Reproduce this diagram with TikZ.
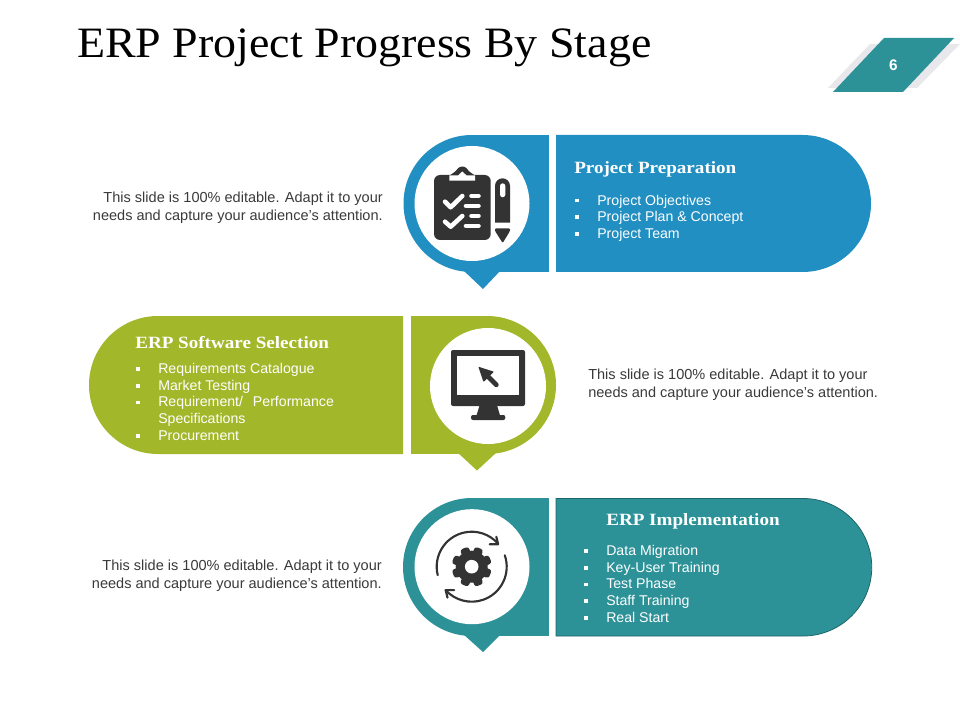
\documentclass[tikz,border=0pt]{standalone}
\usepackage{fontspec}
\usetikzlibrary{calc}
\setmainfont{Liberation Sans}
\newfontfamily\serifhead[FakeStretch=1.06]{Liberation Serif}
\newfontfamily\serifsub[FakeStretch=1.11]{Liberation Serif}
\definecolor{erpblue}{HTML}{228FC2}
\definecolor{erpgreen}{HTML}{A2B82A}
\definecolor{erpteal}{HTML}{2C9298}
\definecolor{icondark}{HTML}{333333}
\definecolor{bodytext}{HTML}{3A3A3A}
\definecolor{shadowgray}{HTML}{E8E8EC}
\newcommand{\bul}{\makebox[16.5pt][l]{\raisebox{0.18em}{\rule{2.8pt}{2.8pt}}}}
\tikzset{
  px/.style={x=0.75pt,y=-0.75pt},
  slidetitle/.style={anchor=base west,inner sep=0,font=\serifhead\fontsize{32.5}{36}\selectfont,text=black},
  head/.style={anchor=base west,inner sep=0,font=\serifsub\bfseries\fontsize{12.9}{15}\selectfont,text=white},
  listing/.style={anchor=north west,inner sep=0,align=left,text=white,font=\fontsize{10.6}{12.55}\selectfont},
  note/.style={inner sep=0,text=bodytext,font=\fontsize{10.9}{13.6}\selectfont},
  whitebar/.style={draw=white,line width=3.4pt,line cap=round,line join=round},
  ring/.style={draw=icondark,line width=1.6pt,line cap=round,line join=round}
}
\begin{document}
\begin{tikzpicture}[px]
\useasboundingbox (0,0) rectangle (960,720);
\fill[white] (0,0) rectangle (960,720);
\node[slidetitle] (title) at (77,58) {ERP Project Progress By Stage};
\fill[shadowgray] (828,88) -- (870,44) -- (960,44) -- (917,88) -- cycle;
\fill[erpteal] (833,92) -- (884,38) -- (954,38) -- (903,92) -- cycle;
\node[inner sep=0,text=white,font=\bfseries\fontsize{11.5}{12}\selectfont] (page) at (893.5,65) {6};

% panel 1
\fill[erpblue] (472,203.5) circle[radius=68.5];
\fill[erpblue] (472,135) rectangle (549,272);
\fill[erpblue] (463,270) -- (501,270) -- (483,289) -- cycle;
\fill[white] (472,203.5) circle[radius=57.5];
\fill[erpblue] (556,135) -- (802.5,135) arc[start angle=-90,end angle=90,radius=68.5] -- (556,272) -- cycle;
\node[head] (h1) at (574,174) {Project Preparation};
\node[listing] (l1) at (575,194.5) {\bul Project Objectives\\\bul Project Plan \& Concept\\\bul Project Team};
\node[note,align=right,anchor=east] (n1) at (383,208) {This slide is 100\% editable. Adapt it to your\\needs and capture your audience's attention.};
% clipboard
\fill[icondark,rounded corners=4.5pt] (434,175) rectangle (490.7,240);
\fill[icondark] (449,176) -- (455,171.7) -- (457.5,169) -- (467,169) -- (469.5,171.7) -- (475.5,176) -- cycle;
\fill[icondark] (462.3,172.5) circle[radius=6];
\fill[white] (449.3,180.7) -- (449.3,175.5) -- (458,175.5) -- (462.3,171.5) -- (466.6,175.5) -- (475,175.5) -- (475,180.7) -- cycle;
\draw[whitebar] (445,201.7) -- (450.7,207.3) -- (462.3,196);
\draw[whitebar] (445,221.7) -- (450.7,226.7) -- (462.3,216);
\draw[whitebar] (471.5,196) -- (478.5,196);
\draw[whitebar] (466,206) -- (478.5,206);
\draw[whitebar] (471.5,216) -- (478.5,216);
\draw[whitebar] (466,226) -- (478.5,226);
% pen
\fill[icondark] (495,222.7) -- (495,185.8) arc[start angle=180,end angle=360,radius=7.5] -- (510,222.7) -- cycle;
\fill[white,rounded corners=2pt] (500,183.3) rectangle (505.3,197.3);
\fill[icondark,rounded corners=0.8pt] (495,228.3) -- (510,228.3) -- (510,231) -- (502.7,243) -- (495,231) -- cycle;

% panel 2
\fill[erpgreen] (487,385) circle[radius=69];
\fill[erpgreen] (411,316) rectangle (487,454);
\fill[erpgreen] (457,452) -- (497,452) -- (477,470.5) -- cycle;
\fill[white] (488,386) circle[radius=58];
\fill[erpgreen] (403,316) -- (158,316) arc[start angle=-90,end angle=-270,radius=69] -- (403,454) -- cycle;
\node[head] (h2) at (135,349) {ERP Software Selection};
\node[listing] (l2) at (136,363) {\bul Requirements Catalogue\\\bul Market Testing\\\bul Requirement/\hspace{0.7em}Performance\\\hspace*{16.5pt}Specifications\\\bul Procurement};
\node[note,align=left,anchor=west] (n2) at (588,385) {This slide is 100\% editable. Adapt it to your\\needs and capture your audience's attention.};
% monitor
\fill[icondark,rounded corners=1.5pt] (451,350) rectangle (525,406);
\fill[white] (456.7,356) rectangle (519.3,395);
\fill[icondark] (480,404) -- (496.7,404) -- (500,415.5) -- (476.5,415.5) -- cycle;
\fill[icondark,rounded corners=1.5pt] (471,415) rectangle (505.3,420);
\fill[icondark,rounded corners=0.6pt] (478.3,366.7) -- (494,371.7) -- (483.5,382) -- cycle;
\draw[icondark,line width=3.6pt,line cap=round] (488,376.5) -- (496.3,384.8);

% panel 3
\fill[erpteal] (472,567) circle[radius=69];
\fill[erpteal] (472,498) rectangle (549,636);
\fill[erpteal] (463,634) -- (501,634) -- (483,652) -- cycle;
\fill[white] (472,566.7) circle[radius=57.5];
\fill[erpteal,draw=erpteal!70!black,line width=0.6pt] (556,498.5) -- (803,498.5) arc[start angle=-90,end angle=90,radius=68.75] -- (556,636) -- cycle;
\node[head] (h3) at (606,525) {ERP Implementation};
\node[listing] (l3) at (584,545) {\bul Data Migration\\\bul Key-User Training\\\bul Test Phase\\\bul Staff Training\\\bul Real Start};
\node[note,align=right,anchor=east] (n3) at (382,576) {This slide is 100\% editable. Adapt it to your\\needs and capture your audience's attention.};
% gear
\coordinate (gc) at (471.7,566.7);
\foreach \a in {0,45,...,315}{
  \fill[icondark,rotate around={\a+22.5:(gc)},rounded corners=2pt] (467.2,546.7) rectangle (476.2,556);
}
\fill[icondark] (gc) circle[radius=16];
\fill[white] (gc) circle[radius=6.8];
\draw[ring] (gc) ++(166:35) arc[start angle=166,end angle=319,radius=35] coordinate (ta);
\draw[ring] ($(ta)+(-8.5,0.5)$) -- ($(ta)+(0,0.5)$) -- ($(ta)+(-1.8,-7)$);
\draw[ring] (gc) ++(-19:35) arc[start angle=-19,end angle=138,radius=35] coordinate (tb);
\draw[ring] ($(tb)+(8.5,0)$) -- (tb) -- ($(tb)+(1.8,7.5)$);
\end{tikzpicture}
\end{document}
